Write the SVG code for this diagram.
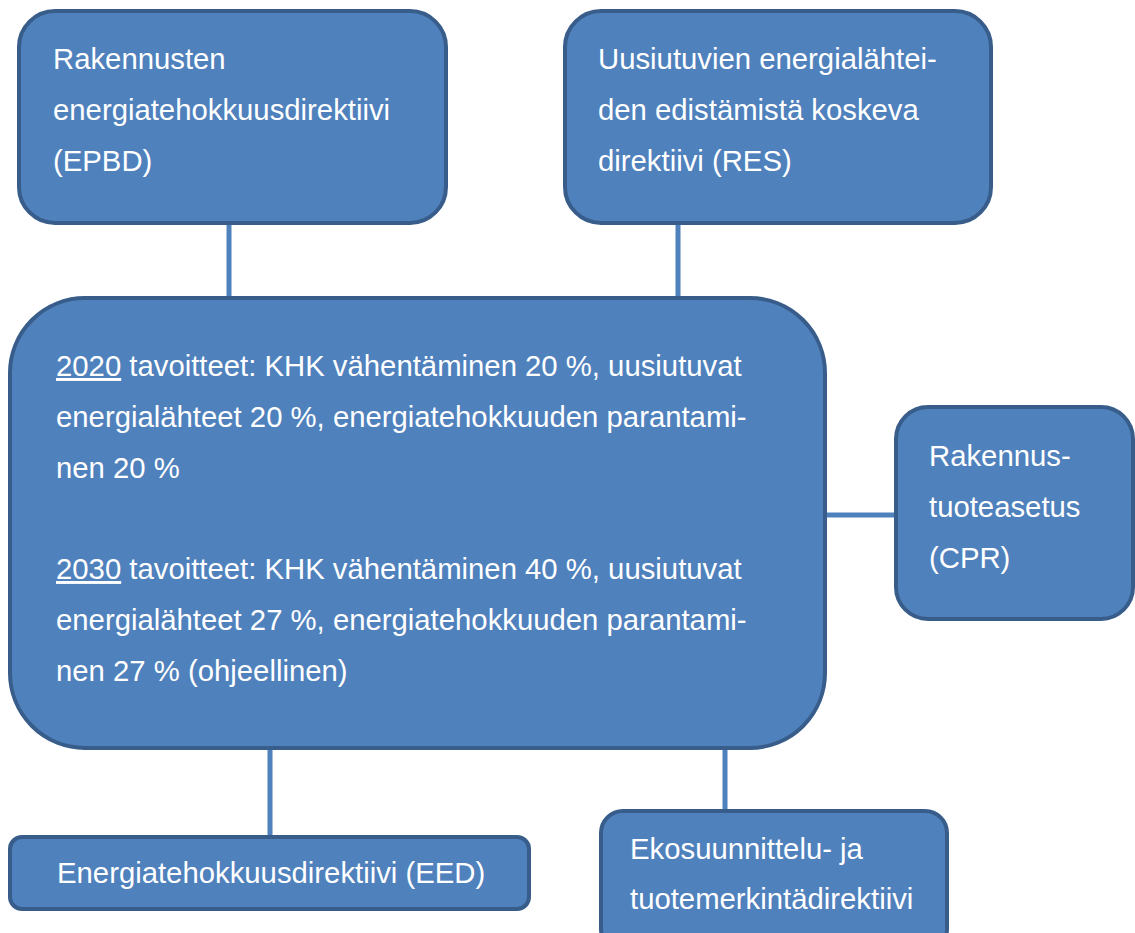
<svg xmlns="http://www.w3.org/2000/svg" width="1135" height="933" viewBox="0 0 1135 933">
<style>
.box{fill:#4F81BD;stroke:#385D8A;stroke-width:4}
.conn{stroke:#4F81BD;stroke-width:5;fill:none}
text{font-family:"Liberation Sans",Arial,sans-serif;font-size:29.3px;fill:#FFFFFF}
</style>
<rect width="1135" height="933" fill="#FFFFFF"/>
<g id="connectors">
<line class="conn" x1="229" y1="223" x2="229" y2="299"/>
<line class="conn" x1="678" y1="223" x2="678" y2="299"/>
<line class="conn" x1="824" y1="515" x2="896" y2="515"/>
<line class="conn" x1="270" y1="747" x2="270" y2="837"/>
<line class="conn" x1="725" y1="747" x2="725" y2="811"/>
</g>
<g id="epbd">
<rect class="box" x="19" y="11" width="427" height="212" rx="36"/>
<text x="53" y="69">Rakennusten</text>
<text x="53" y="120">energiatehokkuusdirektiivi</text>
<text x="53" y="171">(EPBD)</text>
</g>
<g id="res">
<rect class="box" x="565" y="11" width="426" height="212" rx="36"/>
<text x="598" y="69">Uusiutuvien energialähtei-</text>
<text x="598" y="120">den edistämistä koskeva</text>
<text x="598" y="171">direktiivi (RES)</text>
</g>
<g id="goals">
<rect class="box" x="10" y="298" width="815" height="450" rx="75"/>
<text x="56" y="376"><tspan text-decoration="underline">2020</tspan> tavoitteet: KHK vähentäminen 20 %, uusiutuvat</text>
<text x="56" y="427">energialähteet 20 %, energiatehokkuuden parantami-</text>
<text x="56" y="478">nen 20 %</text>
<text x="56" y="579"><tspan text-decoration="underline">2030</tspan> tavoitteet: KHK vähentäminen 40 %, uusiutuvat</text>
<text x="56" y="630">energialähteet 27 %, energiatehokkuuden parantami-</text>
<text x="56" y="681">nen 27 % (ohjeellinen)</text>
</g>
<g id="cpr">
<rect class="box" x="896" y="407" width="237" height="212" rx="32"/>
<text x="929" y="466">Rakennus-</text>
<text x="929" y="517">tuoteasetus</text>
<text x="929" y="568">(CPR)</text>
</g>
<g id="eed">
<rect class="box" x="10" y="837" width="519" height="72" rx="12"/>
<text x="57" y="883">Energiatehokkuusdirektiivi (EED)</text>
</g>
<g id="eco">
<rect class="box" x="601" y="811" width="346" height="140" rx="22"/>
<text x="630" y="859">Ekosuunnittelu- ja</text>
<text x="630" y="909">tuotemerkintädirektiivi</text>
</g>
</svg>
